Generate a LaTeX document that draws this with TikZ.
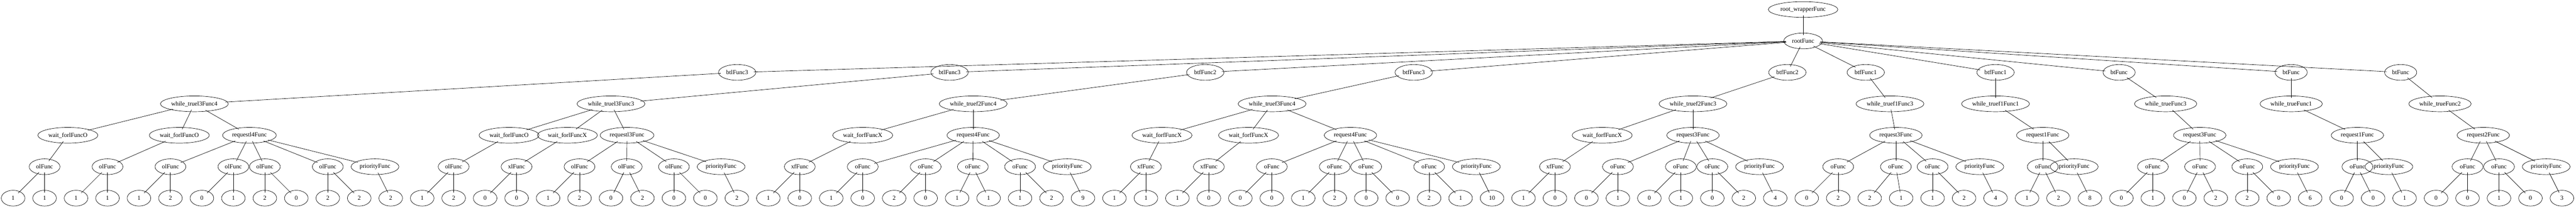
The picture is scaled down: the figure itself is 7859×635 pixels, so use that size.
\documentclass[tikz,border=0pt]{standalone}
\usepackage{fontspec}
\setmainfont{Liberation Serif}
\usetikzlibrary{shapes.geometric}
\begin{document}
\begin{tikzpicture}[x=0.75pt,y=-0.75pt,
  tn/.style={ellipse,draw,line width=0.8pt,inner sep=0pt,minimum height=36pt,
    font=\fontsize{14pt}{16pt}\selectfont},
  wd/.style={tn,minimum width=#1*0.75pt},
  kleaf/.style={wd=72},
  kof/.style={wd=94},
  kpri/.style={wd=146},
  kreq/.style={wd=160},
  kreql/.style={wd=164},
  kwait/.style={wd=183},
  kwhile/.style={wd=207},
  kwhilez/.style={wd=190},
  kbt/.style={wd=114},
  kbtz/.style={wd=98},
  ed/.style={line width=0.8pt,shorten <=-5pt,shorten >=-5pt}]
\fill[white] (0,0) rectangle (7859,635);
\useasboundingbox (0,0) rectangle (7859,635);

% levels: 29,125,221,317,413,509,605
\node[wd=212] (rw) at (5501,29) {root\_wrapperFunc};
\node[wd=118] (rf) at (5501,125) {rootFunc};

% level 2
\node[kbt] (b1) at (2249,221) {btlFunc3};
\node[kbt] (b2) at (2897,221) {btlFunc3};
\node[kbt] (b3) at (3677,221) {btfFunc2};
\node[kbt] (b4) at (4313,221) {btfFunc3};
\node[kbt] (b5) at (5453,221) {btfFunc2};
\node[kbt] (b6) at (5692,221) {btfFunc1};
\node[kbt] (b7) at (6088,221) {btfFunc1};
\node[kbtz] (b8) at (6465,221) {btFunc};
\node[kbtz] (b9) at (6990,221) {btFunc};
\node[kbtz] (b10) at (7324,221) {btFunc};

% level 3
\node[kwhile] (w1) at (593,317) {while\_truel3Func4};
\node[kwhile] (w2) at (1864,317) {while\_truel3Func3};
\node[kwhile] (w3) at (2969,317) {while\_truef2Func4};
\node[kwhile] (w4) at (3881,317) {while\_truef3Func4};
\node[kwhile] (w5) at (5165,317) {while\_truef2Func3};
\node[kwhile] (w6) at (5766,317) {while\_truef1Func3};
\node[kwhile] (w7) at (6088,317) {while\_truef1Func1};
\node[kwhilez] (w8) at (6607,317) {while\_trueFunc3};
\node[kwhilez] (w9) at (6990,317) {while\_trueFunc1};
\node[kwhilez] (w10) at (7444,317) {while\_trueFunc2};

% level 4
\node[kwait] (a1) at (207,413) {wait\_forlFuncO};
\node[kwait] (a2) at (547,413) {wait\_forlFuncO};
\node[kreql] (a3) at (761,413) {requestl4Func};
\node[kwait] (a4) at (1553,413) {wait\_forlFuncO};
\node[kwait] (a5) at (1731,413) {wait\_forlFuncX};
\node[kreql] (a6) at (1913,413) {requestl3Func};
\node[kwait] (a7) at (2632,413) {wait\_forfFuncX};
\node[kreq] (a8) at (2969,413) {request4Func};
\node[kwait] (a9) at (3545,413) {wait\_forfFuncX};
\node[kwait] (a10) at (3809,413) {wait\_forfFuncX};
\node[kreq] (a11) at (4120,413) {request4Func};
\node[kwait] (a12) at (4888,413) {wait\_forfFuncX};
\node[kreq] (a13) at (5165,413) {request3Func};
\node[kreq] (a14) at (5784,413) {request3Func};
\node[kreq] (a15) at (6232,413) {request1Func};
\node[kreq] (a16) at (6711,413) {request3Func};
\node[kreq] (a17) at (7192,413) {request1Func};
\node[kreq] (a18) at (7576,413) {request2Func};

% level 5
\node[kof] (c1) at (136,509) {olFunc};
\node[kof] (c2) at (328,509) {olFunc};
\node[kof] (c3) at (520,509) {olFunc};
\node[kof] (c4) at (712,509) {olFunc};
\node[kof] (c5) at (808,509) {olFunc};
\node[kof] (c6) at (1000,509) {olFunc};
\node[kpri] (c7) at (1144,509) {priorityFunc};
\node[kof] (c8) at (1384,509) {olFunc};
\node[kof] (c9) at (1576,509) {xlFunc};
\node[kof] (c10) at (1768,509) {olFunc};
\node[kof] (c11) at (1912,509) {olFunc};
\node[kof] (c12) at (2056,509) {olFunc};
\node[kpri] (c13) at (2200,509) {priorityFunc};
\node[kof] (c14) at (2440,509) {xfFunc};
\node[kof] (c15) at (2632,509) {oFunc};
\node[kof] (c16) at (2824,509) {oFunc};
\node[kof] (c17) at (2968,509) {oFunc};
\node[kof] (c18) at (3112,509) {oFunc};
\node[kpri] (c19) at (3256,509) {priorityFunc};
\node[kof] (c20) at (3496,509) {xfFunc};
\node[kof] (c21) at (3688,509) {xfFunc};
\node[kof] (c22) at (3880,509) {oFunc};
\node[kof] (c23) at (4072,509) {oFunc};
\node[kof] (c24) at (4168,509) {oFunc};
\node[kof] (c25) at (4360,509) {oFunc};
\node[kpri] (c26) at (4504,509) {priorityFunc};
\node[kof] (c27) at (4744,509) {xfFunc};
\node[kof] (c28) at (4936,509) {oFunc};
\node[kof] (c29) at (5128,509) {oFunc};
\node[kof] (c30) at (5224,509) {oFunc};
\node[kpri] (c31) at (5368,509) {priorityFunc};
\node[kof] (c32) at (5608,509) {oFunc};
\node[kof] (c33) at (5784,509) {oFunc};
\node[kof] (c34) at (5896,509) {oFunc};
\node[kpri] (c35) at (6040,509) {priorityFunc};
\node[kof] (c36) at (6232,509) {oFunc};
\node[kpri] (c37) at (6328,509) {priorityFunc};
\node[kof] (c38) at (6568,509) {oFunc};
\node[kof] (c39) at (6712,509) {oFunc};
\node[kof] (c40) at (6856,509) {oFunc};
\node[kpri] (c41) at (7000,509) {priorityFunc};
\node[kof] (c42) at (7192,509) {oFunc};
\node[kpri] (c43) at (7288,509) {priorityFunc};
\node[kof] (c44) at (7528,509) {oFunc};
\node[kof] (c45) at (7624,509) {oFunc};
\node[kpri] (c46) at (7768,509) {priorityFunc};

% level 6 (leaves)
\foreach \v [count=\i from 0] in {1,1,1,1,1,2,0,1,2,0,2,2,2,
  1,2,0,0,1,2,0,2,0,0,2,
  1,0,1,0,2,0,1,1,1,2,9,
  1,1,1,0,0,0,1,2,0,0,2,1,10,
  1,0,0,1,0,1,0,2,4,
  0,2,2,1,1,2,4,
  1,2,8,
  0,1,0,2,2,0,6,
  0,0,1,
  0,0,1,0,3}
  \node[kleaf] (l\i) at ({40+96*\i},605) {\v};

% edges
\draw[ed] (rw) -- (rf);
\foreach \i in {1,...,10} {
  \draw[ed] (rf) -- (b\i);
  \draw[ed] (b\i) -- (w\i);
}
\foreach \p/\c in {w1/a1,w1/a2,w1/a3,w2/a4,w2/a5,w2/a6,w3/a7,w3/a8,
  w4/a9,w4/a10,w4/a11,w5/a12,w5/a13,w6/a14,w7/a15,w8/a16,w9/a17,w10/a18}
  \draw[ed] (\p) -- (\c);
\foreach \p/\c in {a1/c1,a2/c2,a3/c3,a3/c4,a3/c5,a3/c6,a3/c7,a4/c8,a5/c9,
  a6/c10,a6/c11,a6/c12,a6/c13,a7/c14,a8/c15,a8/c16,a8/c17,a8/c18,a8/c19,
  a9/c20,a10/c21,a11/c22,a11/c23,a11/c24,a11/c25,a11/c26,a12/c27,
  a13/c28,a13/c29,a13/c30,a13/c31,a14/c32,a14/c33,a14/c34,a14/c35,
  a15/c36,a15/c37,a16/c38,a16/c39,a16/c40,a16/c41,a17/c42,a17/c43,
  a18/c44,a18/c45,a18/c46}
  \draw[ed] (\p) -- (\c);
\foreach \p/\c in {c1/0,c1/1,c2/2,c2/3,c3/4,c3/5,c4/6,c4/7,c5/8,c5/9,
  c6/10,c6/11,c7/12,c8/13,c8/14,c9/15,c9/16,c10/17,c10/18,c11/19,c11/20,
  c12/21,c12/22,c13/23,c14/24,c14/25,c15/26,c15/27,c16/28,c16/29,
  c17/30,c17/31,c18/32,c18/33,c19/34,c20/35,c20/36,c21/37,c21/38,
  c22/39,c22/40,c23/41,c23/42,c24/43,c24/44,c25/45,c25/46,c26/47,
  c27/48,c27/49,c28/50,c28/51,c29/52,c29/53,c30/54,c30/55,c31/56,
  c32/57,c32/58,c33/59,c33/60,c34/61,c34/62,c35/63,c36/64,c36/65,c37/66,
  c38/67,c38/68,c39/69,c39/70,c40/71,c40/72,c41/73,c42/74,c42/75,c43/76,
  c44/77,c44/78,c45/79,c45/80,c46/81}
  \draw[ed] (\p) -- (l\c);
\end{tikzpicture}
\end{document}
